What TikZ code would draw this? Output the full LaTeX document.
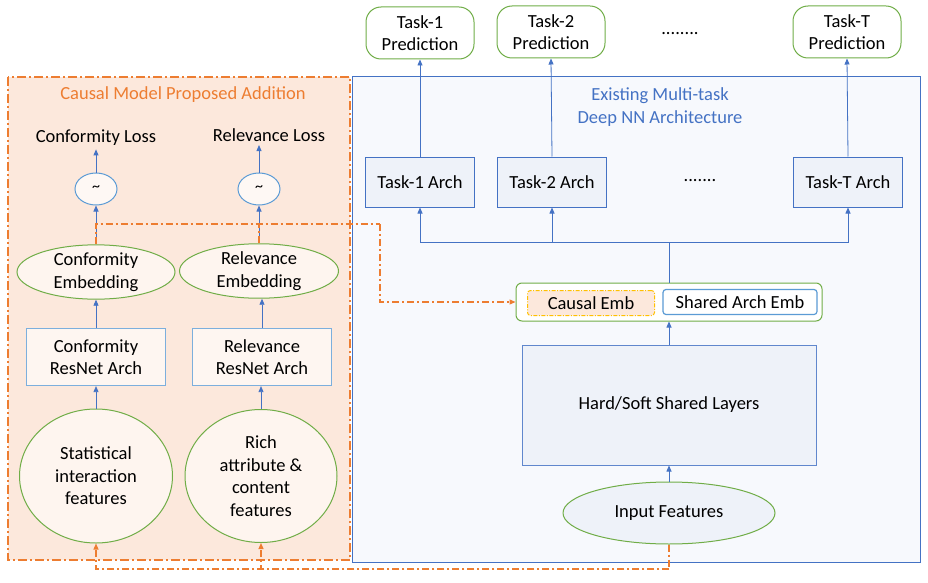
\documentclass[tikz,border=0pt]{standalone}
\usepackage{fontspec}
\setmainfont{Carlito}
\usetikzlibrary{arrows.meta,shapes.geometric}
\definecolor{cblue}{HTML}{4472C4}
\definecolor{lblue}{HTML}{5B9BD5}
\definecolor{cgreen}{HTML}{70AD47}
\definecolor{corange}{HTML}{ED7D31}
\definecolor{ofill}{HTML}{FCE8DC}
\definecolor{bfill}{HTML}{F7F9FD}
\definecolor{afill}{HTML}{EEF2F9}
\definecolor{cyellow}{HTML}{FFC000}
\begin{document}
\begin{tikzpicture}[x=1pt,y=-1pt,
  txt/.style={font=\fontsize{18.5}{22.5}\selectfont, align=center, text=black},
  pred/.style={txt, draw=cgreen, line width=1pt, rounded corners=15pt, fill=white, minimum width=108, minimum height=52, inner sep=0},
  archbox/.style={txt, draw=cblue, line width=1pt, fill=afill, minimum width=109, minimum height=50, inner sep=0},
  resbox/.style={txt, draw=lblue!80, line width=1.2pt, fill=white!60!ofill, minimum width=139, minimum height=57, inner sep=0},
  ell/.style={txt, ellipse, draw=cgreen, line width=1pt, fill=white!55!ofill, inner sep=0},
  tild/.style={ellipse, draw=lblue, line width=1pt, fill=white!70!ofill, minimum width=42, minimum height=32, inner sep=0, font=\fontsize{16}{18}\selectfont},
  arr/.style={draw=cblue, line width=0.8pt, -{Triangle[width=5pt,length=6pt]}},
  bline/.style={draw=cblue, line width=0.8pt},
  oline/.style={draw=corange, line width=1.2pt, dash pattern=on 7pt off 3pt on 2pt off 3pt},
  oarr/.style={oline, -{Triangle[width=5pt,length=6pt]}},
]
\useasboundingbox (0,0) rectangle (928,583);
% backgrounds
\path[fill=bfill, draw=cblue, line width=1pt] (352,77) rectangle (920,562);
\path[fill=ofill, draw=corange, line width=1.5pt, dash pattern=on 9pt off 3pt on 2pt off 3pt] (8,77) rectangle (350,560);
\node[txt, text=corange] (t-causal) at (183,95) {Causal Model Proposed Addition};
\node[txt, text=cblue] (t-exist) at (660,107) {Existing Multi-task\\Deep NN Architecture};

% predictions
\node[pred] (p1) at (420,33) {Task-1\\Prediction};
\node[pred] (p2) at (551,32) {Task-2\\Prediction};
\node[pred] (pT) at (847,32) {Task-T\\Prediction};
\node[txt] (pdots) at (680,34) {........};

% task archs
\node[archbox] (a1) at (420,182) {Task-1 Arch};
\node[archbox] (a2) at (552,182) {Task-2 Arch};
\node[archbox] (aT) at (848,182) {Task-T Arch};
\node[txt] (adots) at (700,181) {.......};

\draw[arr] (a1.north) -- (p1.south);
\draw[arr] (a2.north) -- (p2.south);
\draw[arr] (aT.north) -- (pT.south);

% embedding container
\node[draw=cgreen, line width=1pt, rounded corners=6pt, fill=white, minimum width=306, minimum height=38, inner sep=0] (emb) at (669,302) {};
\node[txt, draw=cyellow, line width=1pt, dash pattern=on 4pt off 1.5pt on 1pt off 1.5pt, rounded corners=3pt, fill=ofill, minimum width=127, minimum height=25, inner sep=0] (cemb) at (591,303) {Causal Emb};
\node[txt, draw=lblue, line width=1.2pt, rounded corners=3pt, fill=white, minimum width=154, minimum height=25, inner sep=0] (semb) at (740,302) {Shared Arch Emb};

% bus
\coordinate (bus) at (669,242);
\draw[bline] (emb.north) -- (bus);
\draw[arr] (bus) -| (a1.south);
\draw[arr] (bus) -| (a2.south);
\draw[arr] (bus) -| (aT.south);

% shared layers and input
\node[txt, draw=cblue!85, line width=1pt, fill=afill, minimum width=294, minimum height=120, inner sep=0] (hard) at (669,405) {Hard/Soft Shared Layers};
\node[ell, minimum width=212, minimum height=62, fill=afill] (inp) at (669,513) {Input Features};
\draw[arr] (hard.north) -- (emb.south);
\draw[arr] (inp.north) -- (hard.south);

% left column
\node[txt] (cl) at (96,138) {Conformity Loss};
\node[txt] (rl) at (269,135) {Relevance Loss};
\node[tild] (c1) at (96,189) {\textasciitilde};
\node[tild] (r1) at (259,189) {\textasciitilde};
\node[ell, minimum width=158, minimum height=52] (ce) at (96,272) {Conformity\\Embedding};
\node[ell, minimum width=159, minimum height=52] (re) at (259,271) {Relevance\\Embedding};
\node[resbox] (cr) at (96,357) {Conformity\\ResNet Arch};
\node[resbox] (rr) at (262,357) {Relevance\\ResNet Arch};
\node[ell, minimum width=153, minimum height=134] (sf) at (96,476) {Statistical\\interaction\\features};
\node[ell, minimum width=152, minimum height=133] (rf) at (261,476) {Rich\\attribute \&\\content\\features};

\draw[arr] (c1.north) -- (cl.south);
\draw[arr] (r1.north) -- (r1.north |- rl.south);
\draw[arr] (ce.north) -- (c1.south);
\draw[arr] (re.north) -- (r1.south);
\draw[arr] (cr.north) -- (ce.south);
\draw[arr] (rr.north) -- (rr.north |- re.south);
\draw[arr] (sf.north) -- (cr.south);
\draw[arr] (rf.north) -- (rf.north |- rr.south);

% causal dashed connectors
\coordinate (jc) at (380,224);
\draw[oline] (ce.north) -- (ce.north |- jc) -- (jc);
\draw[oline] (re.north) -- (re.north |- jc);
\draw[oarr] (jc) |- (emb.west);
\coordinate (jb) at (669,569);
\draw[oline] (inp.south) -- (jb);
\draw[oarr] (jb) -| (sf.south);
\draw[oarr] (jb) -| (rf.south);
\end{tikzpicture}
\end{document}
